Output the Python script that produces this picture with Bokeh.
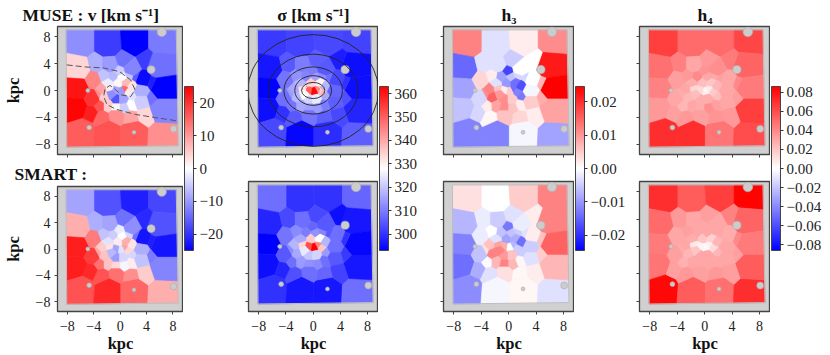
from bokeh.embed import file_html
from bokeh.resources import INLINE
from bokeh.layouts import column, row
from bokeh.models import ColumnDataSource, LinearColorMapper, ColorBar, FixedTicker, Range1d
from bokeh.plotting import figure

FONT = "Liberation Serif"

cell_x = [-6, -1.8, 2.1, 6.5, -6.7, -6.9, -7.1, -6, -1.8, 2, 6.5, 6.2, 6.7, 6.7,
          -3.7, -1.6, .6, 3.9, 1.8, 3.6, 5.2, 5, 3.3, 3.3, 3.8, 1.6, -.6, -2.8, -4.7, -4.4, -4.3,
          -.1, -1.1, .4, 1.4, 2.6, -.3, .9, 1.8, .7, 1.4, 2.1, -1.8, -2.5, -2.8, -1.55, -.6,
          -3.5, -2.4, -1.3, -.6, .1, .4, -1.8, -.6, .6, 1.85, -3.25]
cell_y = [7.1, 7.1, 7.4, 7.4, 3.3, .3, -2.6, -6.2, -6.5, -6.5, -6.7, 3.7, .3, -2.8,
          4, 4, 4.7, 4.5, 3.35, 1.6, 1, -1.1, -.15, -1.6, -3.8, -4.3, -4, -4.3, -3.4, -1.1, 1.6,
          2.9, 2, 1.9, 2.3, 2, 1.1, 1.2, .6, .3, -.2, -.9, 1.1, 2.3, .1, .35, .1,
          -.6, -1, -.6, -1.4, 0, -1.4, -2.3, -2.6, -2.6, -2.1, -2.3]
# estimated bin sizes (kpc), larger bins in the outskirts
cell_r = [2.2] * 14 + [1.3] * 17 + [.75] * 8 + [.5, .6, .75, .75, .75, .75, .6, .6, .75, .75, .7, .7, .5, .7, .75, .75, .75, .75, .75]

v_muse = [-11, -19, -25, -13, 4, 23, 24.5, 16, 17, 16, 11, -14, -25, -12,
          -8, -10, -14, -19, -12, -24, -22, -14, -8, -5, 4, 9, 11, 15, 22, 20, 12,
          -5, -7, 0, -6, -16, 1, 7, 3, 15, 2, -3, -2, -6, 9, 2, -9, 11, 5, -11, -17, -10, -9, 5, 1, -5, 0, 17]
v_smart = [-9, -17, -22, -18, 8, 22, 22, 17, 21, 15, 8, -17, -23, -12,
           -8, -9, -14, -21, -11, -23, -22, -13, -8, -6, 5, 11, 14, 17, 21, 19, 13,
           -2, -5, 0, -4, -14, 2, 8, 3, 9, 4, -4, -3, -6, 5, 3, -9, 9, 6, -7, -10, -3, -4, 6, 4, -1, 2, 14]
sig_muse = [301, 302, 303, 302, 296, 293.5, 295, 303, 294, 299, 306, 295, 295, 298,
            305, 310, 306, 297, 305, 303, 300, 304, 307, 306, 303, 306, 309, 305, 300, 308, 309,
            310, 311, 315, 312, 308, 335, 330, 318, 345, 338, 316, 318, 313, 316, 332, 350, 314, 318, 328, 322, 362, 325, 316, 315, 314, 310, 309]
sig_smart = [308, 300, 300, 307, 298, 293, 295, 300, 296, 296, 308, 296, 294, 296,
             303, 308, 303, 295, 305, 308, 300, 301, 308, 305, 302, 307, 308, 304, 298, 305, 309,
             307, 310, 313, 311, 305, 335, 328, 318, 345, 336, 314, 316, 312, 318, 334, 352, 312, 316, 325, 320, 364, 322, 314, 313, 312, 308, 308]
h3_muse = [.012, -.003, .002, .011, -.0145, -.009, -.006, -.012, -.012, -.001, -.009, .022, .025, .009,
           -.003, -.003, -.005, 0, 0, 0, .007, .008, -.001, .005, .002, .004, .006, .001, -.004, -.004, .004,
           -.018, -.009, -.006, -.004, -.004, -.010, -.014, -.017, -.014, -.012, -.013, -.003, .002, .012, .006, .002,
           .011, .015, .010, .011, .005, .005, .009, .011, .006, .002, .002]
h3_smart = [.003, 0, .005, .012, -.007, -.012, -.014, -.011, -.001, .001, -.003, .012, .015, .007,
            -.002, -.005, -.003, .002, -.002, .002, .006, .005, -.005, -.003, .002, .001, .003, -.003, -.008, -.006, -.002,
            -.013, -.006, -.006, -.005, -.003, -.009, -.008, -.014, -.007, -.005, -.005, -.003, 0, .006, .009, .008,
            .003, .012, .012, .010, 0, .006, .007, .012, .007, .001, -.0005]
h4_muse = [.065, .05, .05, .062, .048, .042, .035, .070, .070, .047, .060, .052, .045, .065,
           .043, .030, .035, .045, .038, .03, .04, .033, .03, .03, .035, .036, .032, .035, .032, .03, .033,
           .037, .04, .03, .03, .032, .022, .02, .025, .008, .018, .022, .028, .035, .03, .015, .013,
           .028, .025, .022, .028, .005, .028, .03, .028, .038, .032, .025]
h4_smart = [.07, .055, .065, .085, .05, .045, .047, .083, .055, .048, .07, .052, .045, .055,
            .035, .03, .033, .042, .03, .028, .04, .032, .03, .03, .033, .035, .032, .035, .032, .032, .03,
            .03, .03, .03, .03, .03, .02, .016, .025, .006, .012, .025, .028, .032, .03, .008, .005,
            .028, .025, .02, .03, .003, .03, .03, .03, .03, .03, .027]

map_edge_x = [-8.2, 8.5, 8.8, -8.1]
map_edge_y = [9.0, 9.0, -8.2, -8.4]
hole_x = [-4.9, -4.7, 2.1, 8.1, 4.7, 6.3]
hole_y = [0, -5.5, -6.2, -5.7, 3.1, 8.7]
hole_r = [.3, .35, .28, .5, .6, .7]

ell_w = [19.2, 13.2, 8.6, 5.4, 3.4, 2.3]
ell_h = [16.6, 10.8, 7.0, 4.4, 2.4, 1.7]
ell_col = ["#222222", "#222222", "#222222", "#222222", "#222222", "#eeeeee"]

curve_x = [-8.1, -5.4, -2.5, -.1, 1.6, 2.25, 1.6, .15, -.85, -1.55, -2.3, -2.5, -2, -.6, 2.3, 5.2, 8.6]
curve_y = [3.8, 3.5, 3.35, 2.8, 1.55, .1, -.9, -.65, .25, .75, .25, -.9, -2.1, -2.8, -3.55, -4, -4.5]

axis_ticks = [-8, -4, 0, 4, 8]
panel_titles = ["MUSE : v [km s⁻¹]", "σ [km s⁻¹]", "h₃", "h₄"]
smart_title = "SMART :"
v_ticks = [-20, -10, 0, 10, 20]
sig_ticks = [300, 310, 320, 330, 340, 350, 360]
h3_ticks = [-.02, -.01, 0, .01, .02]
h4_ticks = [-.08, -.06, -.04, -.02, 0, .02, .04, .06, .08]
ranges = [(-25, 25), (293, 363), (-.0245, .0245), (-.086, .086)]
tick_fmt = ["{:.0f}", "{:.0f}", "{:.2f}", "{:.2f}"]

# matplotlib's "bwr"
bwr = ["#%02x%02xff" % (i, i) for i in range(0, 255, 2)] + ["#ffffff"] + \
      ["#ff%02x%02x" % (i, i) for i in range(254, -1, -2)]


def clip(poly, a, ra, b, rb):
    """Clip polygon to the power-diagram half plane of seed a against seed b."""
    nx, ny = b[0] - a[0], b[1] - a[1]
    c = (b[0] ** 2 + b[1] ** 2 - a[0] ** 2 - a[1] ** 2 + ra ** 2 - rb ** 2) / 2
    side = lambda p: p[0] * nx + p[1] * ny - c
    out = []
    for i, p in enumerate(poly):
        q = poly[(i + 1) % len(poly)]
        sp, sq = side(p), side(q)
        if sp <= 0:
            out.append(p)
        if sp * sq < 0:
            t = sp / (sp - sq)
            out.append((p[0] + t * (q[0] - p[0]), p[1] + t * (q[1] - p[1])))
    return out


def cells():
    seeds = list(zip(cell_x, cell_y))
    res_x, res_y = [], []
    for i, s in enumerate(seeds):
        poly = list(zip(map_edge_x, map_edge_y))
        for j, t in enumerate(seeds):
            if i != j and poly:
                poly = clip(poly, s, cell_r[i], t, cell_r[j])
        res_x.append([p[0] for p in poly])
        res_y.append([p[1] for p in poly])
    return res_x, res_y


cell_xs, cell_ys = cells()
BG = "#d0d0d0"
FRAME = "#444444"


def panel(vals, mapper, width, height, bl, br, bt, bb, xlab, ylab):
    p = figure(width=width, height=height, output_backend="svg", toolbar_location=None,
               x_range=Range1d(-9.5, 9.6), y_range=Range1d(-9.5, 9.5),
               min_border_left=bl, min_border_right=br, min_border_top=bt, min_border_bottom=bb,
               background_fill_color=BG, border_fill_color=None,
               outline_line_color=FRAME, outline_line_width=1.3)
    p.grid.visible = False
    src = ColumnDataSource(dict(xs=cell_xs, ys=cell_ys, val=vals))
    spec = {"field": "val", "transform": mapper}
    p.patches("xs", "ys", source=src, fill_color=spec, line_color=spec, line_width=0.6)
    p.line(map_edge_x + map_edge_x[:1], map_edge_y + map_edge_y[:1], line_color="#bdbdbd", line_width=1)
    p.circle(hole_x, hole_y, radius=hole_r, fill_color="#cccccc", line_color="#b0b0b0", line_width=0.7)
    for ax, lab, is_y in ((p.xaxis[0], xlab, False), (p.yaxis[0], ylab, True)):
        ax.ticker = FixedTicker(ticks=axis_ticks)
        ax.major_tick_out = 3
        ax.major_tick_in = 0
        ax.minor_tick_line_color = None
        ax.major_tick_line_color = FRAME
        ax.axis_line_color = FRAME
        ax.major_label_text_font = FONT
        ax.major_label_text_color = "#222222"
        if lab:
            ax.major_label_overrides = {t: str(t).replace("-", "−") for t in axis_ticks}
            ax.major_label_standoff = 4 if is_y else 6
            ax.major_label_text_font_size = "14px"
            ax.axis_label = "kpc"
            ax.axis_label_text_font = FONT
            ax.axis_label_text_font_style = "bold"
            ax.axis_label_text_font_size = "16.5px"
            ax.axis_label_text_color = "#111111"
            ax.axis_label_standoff = 10 if is_y else 0
        else:
            ax.major_label_overrides = {t: "" for t in axis_ticks}
            ax.major_label_standoff = 0
    return p


def set_title(p, text, align="center", offset=0, standoff=4):
    p.title.text = text
    p.title.align = align
    p.title.offset = offset
    p.title.text_font = FONT
    p.title.text_font_style = "bold"
    p.title.text_font_size = "17.5px"
    p.title.text_color = "#111111"
    p.title.standoff = standoff


def colorbar(mapper, ticks, fmt, width):
    f = figure(width=width, height=355, output_backend="svg", toolbar_location=None,
               x_axis_type=None, y_axis_type=None, x_range=(0, 1), y_range=(0, 1),
               outline_line_color=None, border_fill_color=None, background_fill_color=None,
               min_border=0)
    f.grid.visible = False
    cb = ColorBar(color_mapper=mapper, ticker=FixedTicker(ticks=ticks),
                  major_label_overrides={t: fmt.format(t).replace("-", "−") for t in ticks},
                  width=9, height=164, location=(1, 105), padding=0, margin=0,
                  major_tick_out=3, major_tick_in=0, major_tick_line_color="#333333",
                  minor_tick_line_color=None, bar_line_color="#444444", border_line_color=None,
                  background_fill_color=None, label_standoff=3,
                  major_label_text_font=FONT, major_label_text_font_size="15px",
                  major_label_text_color="#222222")
    f.add_layout(cb, "center")
    return f


muse = [v_muse, sig_muse, h3_muse, h4_muse]
smart = [v_smart, sig_smart, h3_smart, h4_smart]
ticks = [v_ticks, sig_ticks, h3_ticks, h4_ticks]
frame_w = [131, 130, 131, 131]
left = [52, 4, 4, 4]
cb_w = [61, 61, 61, 60]

items = []
for i in range(4):
    m = LinearColorMapper(palette=bwr, low=ranges[i][0], high=ranges[i][1])
    w = frame_w[i] + left[i]
    top = panel(muse[i], m, w, 158, left[i], 0, 24, 4, False, i == 0)
    bot = panel(smart[i], m, w, 197, left[i], 0, 23, 44, True, i == 0)
    if i == 0:
        set_title(top, panel_titles[0], "left", -35)
        set_title(bot, smart_title, "left", -43, 6)
        top.line(curve_x, curve_y, line_color="#555555", line_dash="6 3", line_width=1)
    else:
        set_title(top, panel_titles[i])
    if i == 1:
        top.ellipse([0] * len(ell_w), [0] * len(ell_w), width=ell_w, height=ell_h,
                    fill_color=None, line_color=ell_col, line_width=0.9)
    items.append(column(top, bot, spacing=0))
    items.append(colorbar(m, ticks[i], tick_fmt[i], cb_w[i]))

page = row(*items, spacing=0)
open("out.html", "w").write(file_html(page, INLINE))
